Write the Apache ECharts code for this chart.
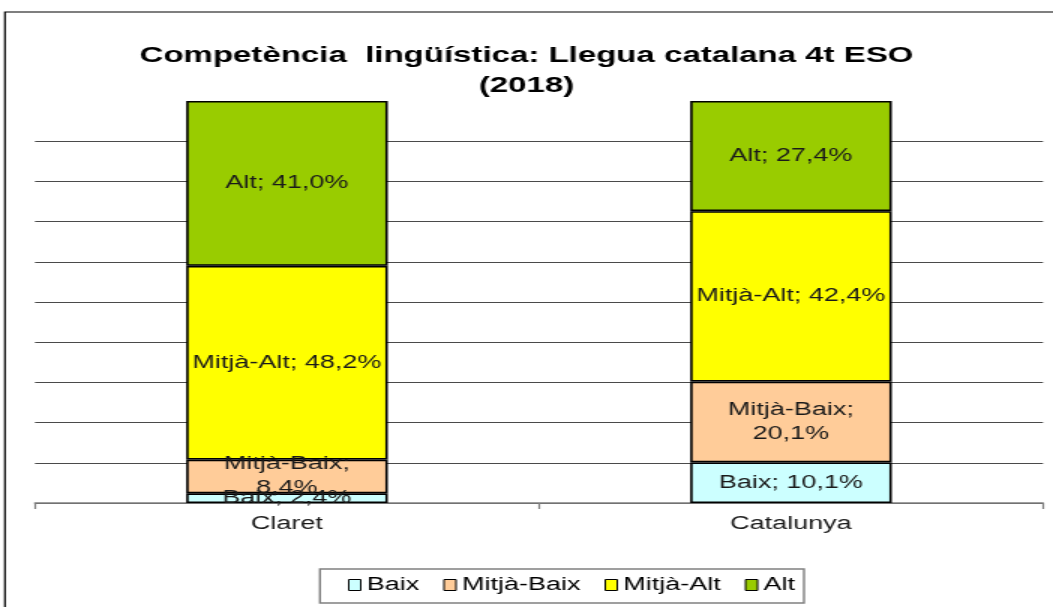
<!DOCTYPE html>
<html>
<head>
<meta charset="utf-8">
<script src="https://cdn.jsdelivr.net/npm/echarts@6/dist/echarts.min.js"></script>
<style>
html, body { margin: 0; padding: 0; background: #fff; overflow: hidden; }
#chart { width: 702px; height: 607px; transform: scaleX(1.5); transform-origin: 0 0; }
</style>
</head>
<body>
<div id="chart"></div>
<script>
const categories = ['Claret', 'Catalunya'];
const seriesNames = ['Baix', 'Mitjà-Baix', 'Mitjà-Alt', 'Alt'];
const baix = [2.4, 10.1];
const mitjaBaix = [8.4, 20.1];
const mitjaAlt = [48.2, 42.4];
const alt = [41.0, 27.4];
const yTicks = [0, 10, 20, 30, 40, 50, 60, 70, 80, 90, 100];
const colors = ['#CCFFFF', '#FFCC99', '#FFFF00', '#99CC00'];

const FONT = "'Liberation Sans', Arial, sans-serif";
const fmt = v => v.toFixed(1).replace('.', ',') + '%';
const values = [baix, mitjaBaix, mitjaAlt, alt];
const wrap = [false, true, false, false];

const chart = echarts.init(document.getElementById('chart'), null, { renderer: 'canvas' });

const series = seriesNames.map((name, i) => ({
  name: name,
  type: 'bar',
  stack: 'total',
  barWidth: '40%',
  data: values[i],
  itemStyle: { color: colors[i], borderColor: '#000', borderWidth: 1.6 },
  label: {
    show: true,
    position: 'inside',
    fontFamily: FONT,
    fontSize: 18,
    lineHeight: 24,
    color: '#1a1a1a',
    formatter: p => name + ';' + (wrap[i] ? '\n' : ' ') + fmt(p.value)
  },
  emphasis: { disabled: true }
}));

chart.setOption({
  animation: false,
  backgroundColor: '#fff',
  title: {
    text: 'Competència  lingüística: Llegua catalana 4t ESO\n(2018)',
    left: 'center',
    top: 36,
    textStyle: { fontFamily: FONT, fontSize: 22, fontWeight: 'bold', color: '#000', lineHeight: 30 }
  },
  graphic: [
    { type: 'rect', shape: { x: 3.3, y: 12, width: 710, height: 620 },
      style: { fill: 'none', stroke: '#000', lineWidth: 1.2 }, silent: true, z: -1 },
    { type: 'rect', shape: { x: 213.3, y: 569, width: 322.7, height: 34 },
      style: { fill: 'none', stroke: '#808080', lineWidth: 1.4 }, silent: true, z: -1 }
  ],
  legend: {
    data: seriesNames,
    left: 232,
    top: 576,
    padding: 0,
    itemGap: 16,
    itemWidth: 8,
    itemHeight: 11,
    icon: 'rect',
    itemStyle: { borderColor: '#000', borderWidth: 1 },
    textStyle: { fontFamily: FONT, fontSize: 18, color: '#000', padding: [0, 0, 0, -1] },
    selectedMode: false
  },
  grid: { left: 23.33, right: 6.67, top: 101, bottom: 104, containLabel: false },
  xAxis: {
    type: 'category',
    data: categories,
    axisLine: { show: true, lineStyle: { color: '#808080', width: 1.5 } },
    axisTick: { show: true, length: 6, lineStyle: { color: '#808080', width: 1.2 } },
    axisLabel: { fontFamily: FONT, fontSize: 18, color: '#1a1a1a', margin: 12 }
  },
  yAxis: {
    type: 'value',
    min: yTicks[0],
    max: yTicks[yTicks.length - 1],
    interval: yTicks[1] - yTicks[0],
    axisLabel: { show: false },
    axisLine: { show: false },
    axisTick: { show: false },
    splitLine: { show: true, showMaxLine: false, lineStyle: { color: '#4a4a4a', width: 1.2 } }
  },
  series: series
});
</script>
</body>
</html>
